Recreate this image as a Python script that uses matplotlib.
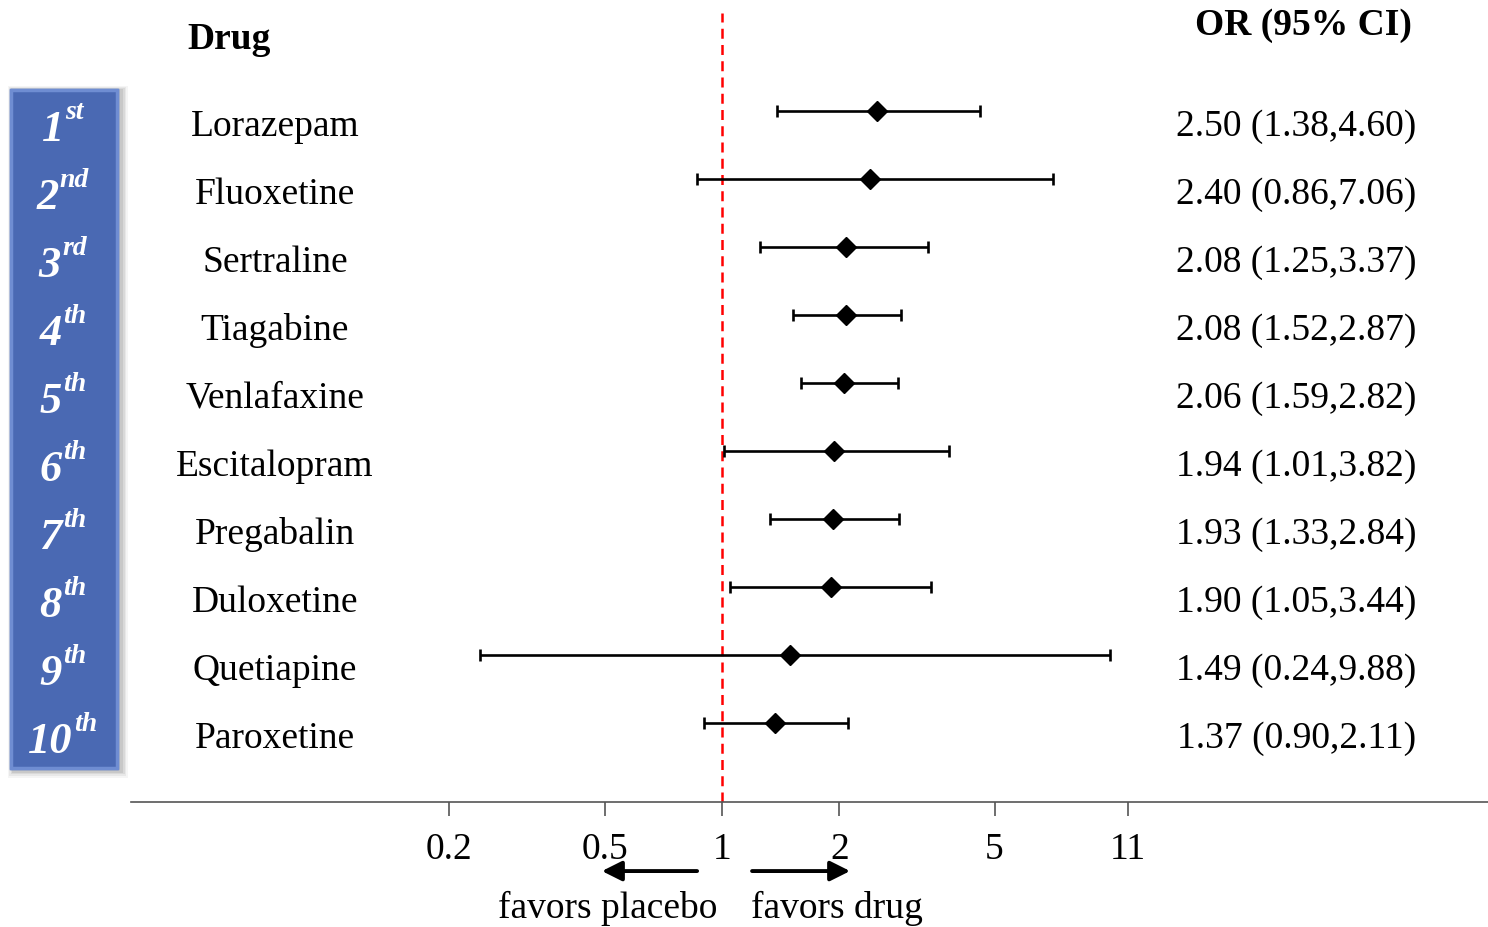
import matplotlib.pyplot as plt
import matplotlib.patches as mpatches
import numpy as np

plt.rcParams['font.family'] = ['Liberation Serif', 'DejaVu Serif']

# data
drugs = ["Lorazepam", "Fluoxetine", "Sertraline", "Tiagabine", "Venlafaxine",
         "Escitalopram", "Pregabalin", "Duloxetine", "Quetiapine", "Paroxetine"]
odds = [2.50, 2.40, 2.08, 2.08, 2.06, 1.94, 1.93, 1.90, 1.49, 1.37]
ci_low = [1.38, 0.86, 1.25, 1.52, 1.59, 1.01, 1.33, 1.05, 0.24, 0.90]
ci_high = [4.60, 7.06, 3.37, 2.87, 2.82, 3.82, 2.84, 3.44, 9.88, 2.11]
ranks = ["1", "2", "3", "4", "5", "6", "7", "8", "9", "10"]
suffixes = ["st", "nd", "rd", "th", "th", "th", "th", "th", "th", "th"]
xticks = [0.2, 0.5, 1, 2, 5, 11]
xticklabels = ["0.2", "0.5", "1", "2", "5", "11"]

fig = plt.figure(figsize=(14.88, 9.28), dpi=100)
ax = fig.add_axes([131 / 1488, 125 / 928, 1357 / 1488, 803 / 928])
ax.set_xscale('log')
ax.set_xlim(0.0305, 92.1)
ax.set_ylim(10.16, -1.647)

y = np.arange(len(drugs))
odds = np.array(odds)
ci_low = np.array(ci_low)
ci_high = np.array(ci_high)

ax.axvline(1, ymin=0, ymax=(10.16 + 1.44) / (10.16 + 1.647), color='red',
           linestyle=(0, (4, 2.5)), linewidth=1.8, zorder=1)
ax.errorbar(odds, y, xerr=[odds - ci_low, ci_high - odds], fmt='D', color='black',
            markersize=10, elinewidth=1.9, capsize=4, capthick=1.9, zorder=3)

# axis styling
for s in ['top', 'right', 'left']:
    ax.spines[s].set_visible(False)
ax.spines['bottom'].set_color('#555555')
ax.spines['bottom'].set_linewidth(1.2)
ax.set_yticks([])
ax.set_xticks(xticks)
ax.set_xticklabels(xticklabels, fontsize=27)
ax.minorticks_off()
ax.tick_params(axis='x', direction='out', length=10, width=1.2, color='#555555', pad=11)

tr = ax.get_yaxis_transform()

# text columns
ax.text(0.072, -1.06, "Drug", transform=tr, ha='center', va='center',
        fontsize=27, fontweight='bold')
ax.text(0.944, -1.27, "OR (95% CI)", transform=tr, ha='right', va='center',
        fontsize=27, fontweight='bold')
for i, d in enumerate(drugs):
    ax.text(0.106, i + 0.21, d, transform=tr, ha='center', va='center', fontsize=27)
    ax.text(0.947, i + 0.21, f"{odds[i]:.2f} ({ci_low[i]:.2f},{ci_high[i]:.2f})",
            transform=tr, ha='right', va='center', fontsize=27)

# blue rank panel with soft shadow
for k, a in enumerate([0.06, 0.08, 0.10, 0.12]):
    d = 0.0022 * (4 - k)
    sh = mpatches.Rectangle((-0.0880 + 0.0015 - d / 2, -0.30 - d * 8), 0.0796 + d, 10.0 + d * 20,
                            transform=tr, clip_on=False, facecolor='#555555', alpha=a,
                            edgecolor='none', zorder=1)
    ax.add_patch(sh)
panel = mpatches.Rectangle((-0.0892, -0.324), 0.0796, 10.0, transform=tr, clip_on=False,
                           facecolor='#4a69b3', edgecolor='#4a69b3', linewidth=1, zorder=2)
ax.add_patch(panel)
inner = mpatches.Rectangle((-0.0884, -0.31), 0.0780, 9.972, transform=tr, clip_on=False,
                           facecolor='none', edgecolor='#6f8dd2', linewidth=2.5, zorder=2)
ax.add_patch(inner)

num_texts = []
sup_texts = []
for i in range(len(ranks)):
    t1 = ax.text(-0.0508, i + 0.26, ranks[i], transform=tr, ha='left', va='center',
                 fontsize=32, fontweight='bold', fontstyle='italic', color='white', zorder=4)
    t2 = ax.text(-0.0508, i + 0.0, suffixes[i], transform=tr, ha='left', va='center',
                 fontsize=20, fontweight='bold', fontstyle='italic', color='white', zorder=4)
    num_texts.append(t1)
    sup_texts.append(t2)

fig.canvas.draw()
r = fig.canvas.get_renderer()
ax_w = ax.get_window_extent().width
for t1, t2 in zip(num_texts, sup_texts):
    w1 = t1.get_window_extent(r).width / ax_w
    w2 = t2.get_window_extent(r).width / ax_w
    x0 = -0.0508 - (w1 + w2) / 2
    t1.set_x(x0)
    t2.set_x(x0 + w1 + 0.001)

# favors arrows
ax.annotate("", xy=(0.492, -0.086), xytext=(0.863, -0.086), xycoords=('data', 'axes fraction'),
            annotation_clip=False,
            arrowprops=dict(arrowstyle='-|>', color='black', lw=2.8, mutation_scale=30,
                            shrinkA=0, shrinkB=0))
ax.annotate("", xy=(2.13, -0.086), xytext=(1.194, -0.086), xycoords=('data', 'axes fraction'),
            annotation_clip=False,
            arrowprops=dict(arrowstyle='-|>', color='black', lw=2.8, mutation_scale=30,
                            shrinkA=0, shrinkB=0))
ax.text(0.51, -0.131, "favors placebo", transform=ax.get_xaxis_transform(), ha='center',
        va='center', fontsize=27)
ax.text(1.97, -0.131, "favors drug", transform=ax.get_xaxis_transform(), ha='center',
        va='center', fontsize=27)

fig.savefig("out.png", dpi=100)
